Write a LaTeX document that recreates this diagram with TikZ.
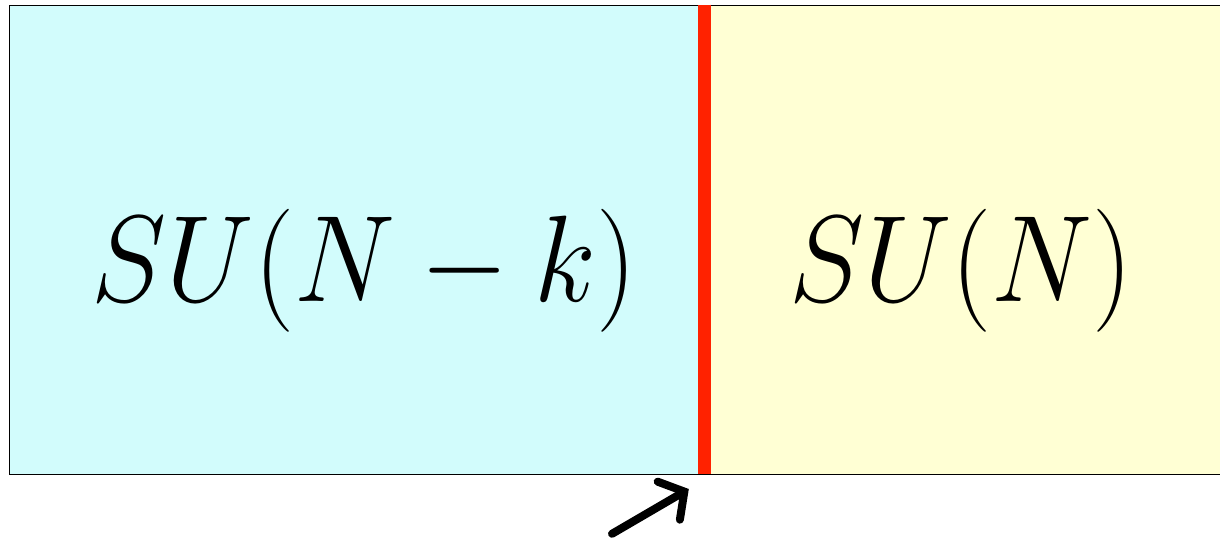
\documentclass[tikz,border=0pt]{standalone}
\usetikzlibrary{arrows.meta}
\definecolor{leftbg}{HTML}{D2FCFC}
\definecolor{rightbg}{HTML}{FFFFD4}
\definecolor{wallred}{HTML}{FF2200}
\tikzset{
  region/.style ={draw=black, line width=0.6pt, inner sep=0pt, minimum height=11.725cm},
  label/.style  ={font=\Huge, xscale=3.25, yscale=3.52, anchor=base},
  wall/.style   ={wallred, line width=0.33cm},
  pointer/.style={line width=0.2cm, line cap=round, -{Straight Barb[length=0.45cm, width=1.1cm, line cap=round]}},
}
\begin{document}
\begin{tikzpicture}
  \useasboundingbox (0, 0) rectangle (30.5, 13.525);
  \node[region, fill=leftbg, minimum width=17.375cm] (l) at (8.9125, 7.5375) {};
  \node[region, fill=rightbg, minimum width=13cm] (r) at (24.1, 7.5375) {};
  \node[label] (su1) at (9.1, 5.98) {$SU(N-k)$};
  \node[label] (su2) at (24.03, 5.98) {$SU(N)$};
  \coordinate (tail) at (15.3, 0.18);
  \coordinate (tip) at (17.22, 1.3);
  % domain wall between the two phases
  \draw[wall] (l.north east) -- (l.south east);
  \draw[pointer] (tail) -- (tip);
\end{tikzpicture}
\end{document}
